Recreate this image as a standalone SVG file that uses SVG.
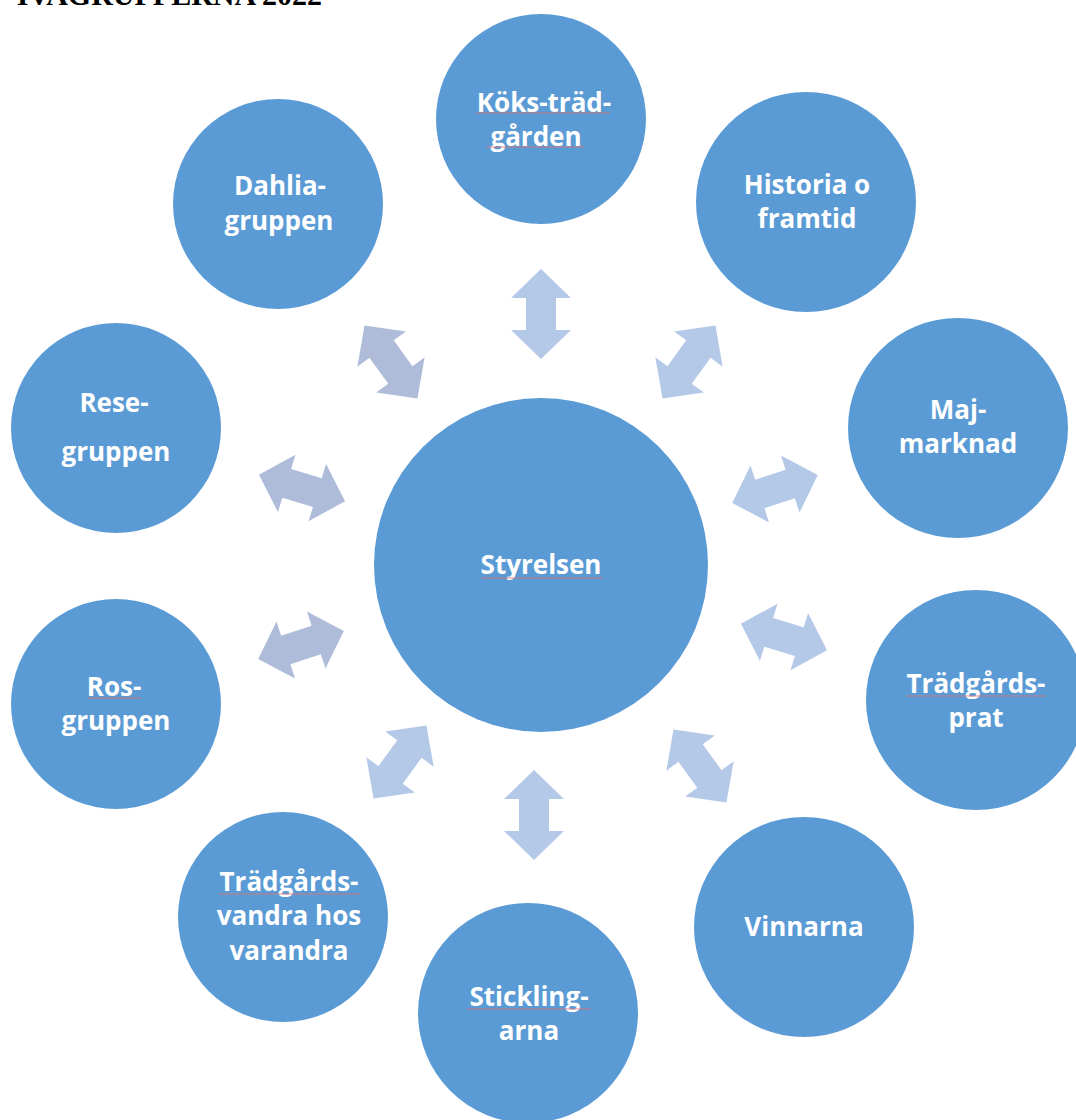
<svg xmlns="http://www.w3.org/2000/svg" width="1076" height="1120" viewBox="0 0 1076 1120">
<style>
.node{fill:#5B9BD5}
.lbl{font-family:"Open Sans","Liberation Sans",sans-serif;font-weight:bold;font-size:26px;fill:#FFFFFF;text-anchor:middle}
.arr{fill:#B4C9E8}
.arr2{fill:#AEBCDA}
.sq{stroke:#E07070;stroke-width:1.2;fill:none;opacity:0.8}
.title{font-family:"Liberation Serif",serif;font-weight:bold;font-size:30px;fill:#000000;text-anchor:end}
</style>
<defs>
<polygon id="dbl" points="-45,0 -16,-30 -16,-15 16,-15 16,-30 45,0 16,30 16,15 -16,15 -16,30"/>
</defs>
<rect width="1076" height="1120" fill="#FFFFFF"/>
<text class="title" x="322" y="5">IVAGRUPPERNA 2022</text>

<g id="connectors">
<use href="#dbl" class="arr" transform="translate(541,314) rotate(90)"/>
<use href="#dbl" class="arr" transform="translate(534,815) rotate(90)"/>
<use href="#dbl" class="arr2" transform="translate(391,362) rotate(54)"/>
<use href="#dbl" class="arr" transform="translate(689,362) rotate(-54)"/>
<use href="#dbl" class="arr2" transform="translate(302,488) rotate(17)"/>
<use href="#dbl" class="arr" transform="translate(775,489) rotate(-18)"/>
<use href="#dbl" class="arr2" transform="translate(301,645) rotate(-18)"/>
<use href="#dbl" class="arr" transform="translate(784,637) rotate(17)"/>
<use href="#dbl" class="arr" transform="translate(400,762) rotate(-54)"/>
<use href="#dbl" class="arr" transform="translate(700,766) rotate(54)"/>
</g>

<g id="styrelsen">
<circle class="node" cx="541" cy="565" r="167"/>
<text class="lbl" x="541" y="574">Styrelsen</text>
<path class="sq" d="M481,578 L603,578"/>
</g>
<g id="koks">
<circle class="node" cx="541" cy="119" r="105"/>
<text class="lbl" x="544" y="112">Köks-träd-</text>
<text class="lbl" x="536" y="146">gården</text>
<path class="sq" d="M476,113 L610,113 M486,147 L584,147"/>
</g>
<g id="historia">
<circle class="node" cx="806" cy="202" r="110"/>
<text class="lbl" x="807" y="194">Historia o</text>
<text class="lbl" x="807" y="228">framtid</text>
</g>
<g id="dahlia">
<circle class="node" cx="278" cy="204" r="105"/>
<text class="lbl" x="280" y="195">Dahlia-</text>
<text class="lbl" x="279" y="230">gruppen</text>
</g>
<g id="rese">
<circle class="node" cx="116" cy="428" r="105"/>
<text class="lbl" x="114" y="412">Rese-</text>
<text class="lbl" x="116" y="461">gruppen</text>
</g>
<g id="maj">
<circle class="node" cx="958" cy="428" r="110"/>
<text class="lbl" x="958" y="419">Maj-</text>
<text class="lbl" x="958" y="453">marknad</text>
</g>
<g id="ros">
<circle class="node" cx="116" cy="704" r="105"/>
<text class="lbl" x="114" y="696">Ros-</text>
<text class="lbl" x="116" y="730">gruppen</text>
<path class="sq" d="M88,698 L141,698"/>
</g>
<g id="tradgardsprat">
<circle class="node" cx="976" cy="700" r="110"/>
<text class="lbl" x="976" y="693">Trädgårds-</text>
<text class="lbl" x="976" y="727">prat</text>
<path class="sq" d="M906,696 L1046,696"/>
</g>
<g id="tradgardsvandra">
<circle class="node" cx="283" cy="917" r="105"/>
<text class="lbl" x="289" y="891">Trädgårds-</text>
<text class="lbl" x="289" y="925">vandra hos</text>
<text class="lbl" x="289" y="960">varandra</text>
<path class="sq" d="M219,894 L360,894"/>
</g>
<g id="vinnarna">
<circle class="node" cx="804" cy="927" r="110"/>
<text class="lbl" x="804" y="936">Vinnarna</text>
</g>
<g id="stickling">
<circle class="node" cx="528" cy="1013" r="110"/>
<text class="lbl" x="529" y="1006">Stickling-</text>
<text class="lbl" x="529" y="1040">arna</text>
<path class="sq" d="M467,1009 L591,1009"/>
</g>
</svg>
